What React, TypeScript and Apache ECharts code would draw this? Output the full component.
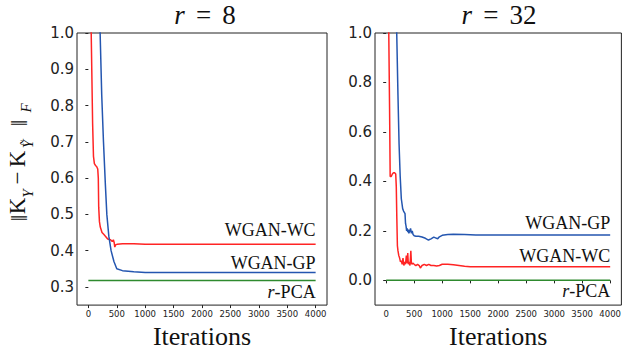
import React, { useEffect, useRef } from 'react';
import * as echarts from 'echarts';

const xTicks = [0, 500, 1000, 1500, 2000, 2500, 3000, 3500, 4000];
const yTicksLeft = [0.3, 0.4, 0.5, 0.6, 0.7, 0.8, 0.9, 1.0];
const yTicksRight = [0.0, 0.2, 0.4, 0.6, 0.8, 1.0];
const panelTitles = ['8', '32'];

// r = 8
const wc8Iter = [0, 25, 50, 75, 90, 106, 125, 145, 165, 175, 182, 195, 210, 240, 270, 300, 340, 390, 420, 440, 455, 465, 480, 510, 600, 800, 1000, 1500, 4000];
const wc8Val = [2.5, 1.5, 1.0, 0.75, 0.66, 0.64, 0.635, 0.632, 0.625, 0.6, 0.52, 0.48, 0.465, 0.45, 0.445, 0.44, 0.432, 0.43, 0.425, 0.43, 0.422, 0.41, 0.416, 0.418, 0.419, 0.419, 0.418, 0.418, 0.418];
const gp8Iter = [0, 100, 150, 207, 235, 266, 300, 325, 360, 400, 450, 500, 600, 800, 1000, 2000, 4000];
const gp8Val = [5.0, 2.5, 1.6, 1.0, 0.83, 0.7, 0.58, 0.5, 0.44, 0.4, 0.37, 0.35, 0.345, 0.342, 0.34, 0.34, 0.34];
const pca8Iter = [0, 4000];
const pca8Val = [0.318, 0.318];

// r = 32
const wc32Iter = [0, 25, 46, 60, 71, 90, 110, 130, 150, 170, 180, 190, 200, 210, 225, 240, 255, 270, 285, 300, 315, 330, 345, 360, 375, 385, 395, 410, 425, 440, 450, 460, 475, 500, 530, 560, 590, 610, 640, 680, 720, 760, 800, 850, 900, 950, 1000, 1100, 1200, 1300, 1400, 1500, 2000, 3000, 4000];
const wc32Val = [2.5, 1.5, 1.0, 0.7, 0.42, 0.42, 0.43, 0.435, 0.435, 0.43, 0.38, 0.25, 0.14, 0.12, 0.1, 0.09, 0.075, 0.08, 0.065, 0.09, 0.06, 0.075, 0.065, 0.1, 0.07, 0.11, 0.065, 0.075, 0.06, 0.12, 0.07, 0.065, 0.07, 0.065, 0.06, 0.065, 0.06, 0.05, 0.06, 0.065, 0.06, 0.065, 0.06, 0.06, 0.058, 0.06, 0.065, 0.065, 0.063, 0.06, 0.057, 0.055, 0.055, 0.055, 0.055];
const gp32Iter = [0, 100, 150, 188, 210, 230, 250, 270, 294, 310, 336, 345, 354, 365, 375, 385, 395, 405, 420, 435, 450, 465, 480, 500, 531, 580, 640, 700, 755, 800, 850, 880, 920, 950, 1000, 1100, 1200, 1400, 1600, 2000, 4000];
const gp32Val = [5.0, 2.5, 1.5, 1.0, 0.75, 0.55, 0.42, 0.33, 0.29, 0.28, 0.27, 0.23, 0.22, 0.2, 0.21, 0.195, 0.205, 0.19, 0.2, 0.21, 0.19, 0.2, 0.185, 0.18, 0.178, 0.178, 0.175, 0.17, 0.163, 0.168, 0.175, 0.172, 0.168, 0.176, 0.182, 0.185, 0.186, 0.185, 0.183, 0.183, 0.183];
const pca32Iter = [0, 4000];
const pca32Val = [0.0, 0.0];

// label anchor heights (data units)
const labelY8 = { wc: 0.456, gp: 0.366, pca: 0.287 };
const labelY32 = { wc: 0.099, gp: 0.231, pca: -0.045 };

// y-axis title pieces: [text, isSub]
const yTitlePieces: [string, boolean][] = [
  ['‖', false],
  ['K', false],
  ['Y', true],
  ['−', false],
  ['K', false],
  ['Ỹ', true],
  ['‖', false],
  ['F', true],
];

const RED = '#ff2424';
const BLUE = '#2456b0';
const GREEN = '#2e8a2e';
const SERIF = "'Liberation Serif', 'DejaVu Serif', serif";
const SANS = "'DejaVu Sans', sans-serif";
const INK = '#111';

const zip = (xs: number[], ys: number[]) => xs.map((x, i) => [x, ys[i]]);

const annot = (text: string, y: number) => ({
  coord: [4000, y],
  symbol: 'circle',
  symbolSize: 0,
  itemStyle: { color: 'transparent' },
  label: {
    show: true,
    position: 'left',
    distance: 0,
    formatter: text,
    fontFamily: SERIF,
    fontSize: 18,
    color: INK,
    rich: { i: { fontFamily: SERIF, fontSize: 18, fontStyle: 'italic', color: INK } },
  },
});

const lineSeries = (name: string, gi: number, xs: number[], ys: number[], color: string, label: any) => ({
  name,
  type: 'line',
  xAxisIndex: gi,
  yAxisIndex: gi,
  data: zip(xs, ys),
  showSymbol: false,
  symbol: 'none',
  clip: true,
  lineStyle: { color, width: 1.5 },
  itemStyle: { color },
  markPoint: { silent: true, animation: false, data: [label] },
});

const xAxisFor = (gi: number) => ({
  type: 'value',
  gridIndex: gi,
  min: -200,
  max: 4200,
  name: 'Iterations',
  nameLocation: 'middle',
  nameGap: 15,
  nameTextStyle: { fontFamily: SERIF, fontSize: 26, color: INK },
  axisLine: { show: false },
  splitLine: { show: false },
  axisTick: { show: true, length: 3, customValues: xTicks, lineStyle: { color: '#222' } },
  axisLabel: {
    customValues: xTicks,
    fontSize: 8.5,
    margin: 4,
    fontFamily: SANS,
    color: '#222',
    formatter: (v: number) => String(v),
  },
});

const yAxisFor = (gi: number, min: number, ticks: number[]) => ({
  type: 'value',
  gridIndex: gi,
  min,
  max: 1.0,
  axisLine: { show: false },
  splitLine: { show: false },
  axisTick: { show: true, length: 3, customValues: ticks, lineStyle: { color: '#222' } },
  axisLabel: {
    customValues: ticks,
    fontSize: 15,
    margin: 3,
    fontFamily: SANS,
    color: '#222',
    formatter: (v: number) => v.toFixed(1),
  },
});

const titleText = (x: number, n: string) => ({
  type: 'text',
  x,
  y: 15,
  style: {
    text: '{i|r} \u2006=\u2006 ' + n,
    fontFamily: SERIF,
    fontSize: 27,
    fill: INK,
    align: 'center',
    verticalAlign: 'middle',
    rich: { i: { fontFamily: SERIF, fontSize: 27, fontStyle: 'italic', fill: INK } },
  },
});

// y-axis title: a group turned 90° counter-clockwise; pieces laid out along its reading direction
const Y_TITLE_CX = 20;
const Y_TITLE_CY = 160;
const yTitleAlong = [-58, -46, -33.5, -18, 1, 16, 37, 52];
const yTitleSide = [-1, -2.5, 7.5, -2.5, -2.5, 7.5, -1, 6];

const yTitleGroup = {
  type: 'group',
  x: Y_TITLE_CX,
  y: Y_TITLE_CY,
  rotation: Math.PI / 2,
  children: yTitlePieces.map(([t, sub], i) => ({
    type: 'text',
    x: yTitleAlong[i],
    y: yTitleSide[i],
    style: {
      text: t,
      fontFamily: SERIF,
      fontSize: sub ? 15 : 23,
      fontStyle: sub ? 'italic' : 'normal',
      fill: INK,
      align: 'center',
      verticalAlign: 'middle',
    },
  })),
};

const option: any = {
  animation: false,
  grid: [
    { left: 77, top: 33, width: 250, height: 274, show: true, borderColor: '#222', borderWidth: 1, backgroundColor: 'transparent' },
    { left: 375, top: 33, width: 248, height: 274, show: true, borderColor: '#222', borderWidth: 1, backgroundColor: 'transparent' },
  ],
  xAxis: [xAxisFor(0), xAxisFor(1)],
  yAxis: [yAxisFor(0, 0.25, yTicksLeft), yAxisFor(1, -0.1, yTicksRight)],
  series: [
    lineSeries('WGAN-WC r8', 0, wc8Iter, wc8Val, RED, annot('WGAN-WC', labelY8.wc)),
    lineSeries('WGAN-GP r8', 0, gp8Iter, gp8Val, BLUE, annot('WGAN-GP', labelY8.gp)),
    lineSeries('r-PCA r8', 0, pca8Iter, pca8Val, GREEN, annot('{i|r}-PCA', labelY8.pca)),
    lineSeries('WGAN-WC r32', 1, wc32Iter, wc32Val, RED, annot('WGAN-WC', labelY32.wc)),
    lineSeries('WGAN-GP r32', 1, gp32Iter, gp32Val, BLUE, annot('WGAN-GP', labelY32.gp)),
    lineSeries('r-PCA r32', 1, pca32Iter, pca32Val, GREEN, annot('{i|r}-PCA', labelY32.pca)),
  ],
  graphic: [titleText(205, panelTitles[0]), titleText(499, panelTitles[1]), yTitleGroup],
};

export default function App() {
  const ref = useRef<HTMLDivElement>(null);
  useEffect(() => {
    document.body.style.margin = '0';
    const chart = echarts.init(ref.current!, null, { renderer: 'svg' });
    chart.setOption(option);
    return () => chart.dispose();
  }, []);
  return <div ref={ref} style={{ width: 624, height: 354 }} />;
}
